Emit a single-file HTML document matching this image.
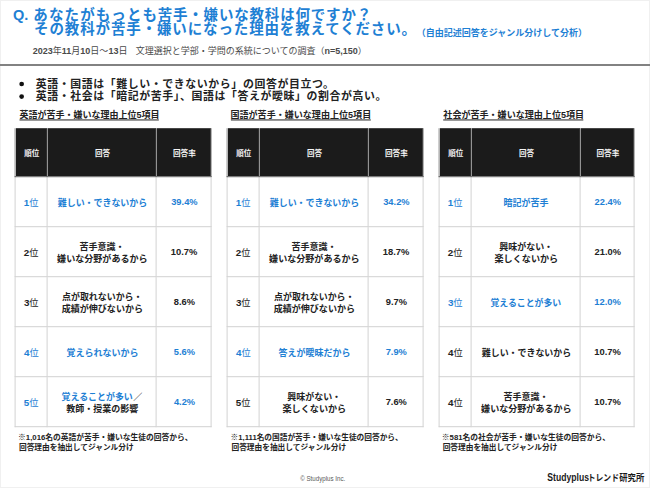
<!DOCTYPE html>
<html lang="ja">
<head>
<meta charset="utf-8">
<title>苦手・嫌いな教科とその理由</title>
<style>
html,body{margin:0;padding:0}
body{width:650px;height:488px;position:relative;overflow:hidden;background:#fff;font-family:"Liberation Sans",sans-serif;color:#222}
.frame{position:absolute;left:0;top:0;width:648px;height:486px;border:1px solid #f0f0f0}
.rule{position:absolute;left:0;top:64px;width:650px;height:2px;background:#828282}
.h{position:absolute;margin:0;padding:0;color:transparent;white-space:nowrap;font-weight:bold;overflow:hidden}
span.h{position:static;display:block;font-size:9px;line-height:10px;max-height:20px;white-space:nowrap}
h1 small{font-size:9px;letter-spacing:0}
ul.h{list-style:none}
table{position:absolute;top:128px;transform:translate(-.4px,.2px);border-collapse:collapse;table-layout:fixed;width:197px}
th,td{padding:0;border:1px solid #d2d2d2;text-align:center;vertical-align:middle;overflow:hidden;line-height:10px;font-size:9px}
th{height:48px;background:#1b1b1b;border-color:#fff;border-left-color:#4c4c4c;border-right-color:#4c4c4c}
th:first-child{border-left-color:#858585}th:last-child{border-right-color:#858585}
tr.hd th{border-bottom-color:#5c5c5c;border-top:0}
td{height:49px}
svg.g{position:absolute;left:0;top:0;pointer-events:none}
svg.g text{font-family:"Liberation Sans","Noto Sans CJK JP",sans-serif;white-space:pre}
svg.g .b{font-weight:bold}
svg.g .n{font-weight:normal}
</style>
</head>
<body>
<div class="frame"></div>
<header>
<h1 class="h" style="left:13px;top:6px;font-size:14px;letter-spacing:1.25px;line-height:14.6px;text-indent:-21px;padding-left:21px">Q. あなたがもっとも苦手・嫌いな教科は何ですか？<br>その教科が苦手・嫌いになった理由を教えてください。<small>（自由記述回答をジャンル分けして分析）</small></h1>
<p class="h" style="left:33px;top:45px;font-size:9px">2023年11月10日～13日　文理選択と学部・学問の系統についての調査（n=5,150）</p>
</header>
<div class="rule"></div>
<ul class="h" style="left:20px;top:78px;font-size:11.5px;line-height:12.3px"><li>英語・国語は「難しい・できないから」の回答が目立つ。</li><li>英語・社会は「暗記が苦手」、国語は「答えが曖昧」の割合が高い。</li></ul>
<h2 class="h" style="left:19.8px;top:109px;font-size:9px;width:138.7px">英語が苦手・嫌いな理由上位5項目</h2>
<table style="left:15px;width:197px"><colgroup><col style="width:32px"><col style="width:109px"><col style="width:55px"></colgroup><tr class="hd"><th><span class="h">順位</span></th><th><span class="h">回答</span></th><th><span class="h">回答率</span></th></tr><tr class="b"><td><span class="h">1位</span></td><td><span class="h">難しい・できないから</span></td><td><span class="h">39.4%</span></td></tr><tr><td><span class="h">2位</span></td><td><span class="h">苦手意識・<br>嫌いな分野があるから</span></td><td><span class="h">10.7%</span></td></tr><tr><td><span class="h">3位</span></td><td><span class="h">点が取れないから・<br>成績が伸びないから</span></td><td><span class="h">8.6%</span></td></tr><tr class="b"><td><span class="h">4位</span></td><td><span class="h">覚えられないから</span></td><td><span class="h">5.6%</span></td></tr><tr class="b"><td><span class="h">5位</span></td><td><span class="h">覚えることが多い／<br>教師・授業の影響</span></td><td><span class="h">4.2%</span></td></tr></table>
<p class="h" style="left:19.2px;top:431px;font-size:8px;line-height:10.6px">※1,016名の英語が苦手・嫌いな生徒の回答から、<br>回答理由を抽出してジャンル分け</p>
<h2 class="h" style="left:231.2px;top:109px;font-size:9px;width:139.3px">国語が苦手・嫌いな理由上位5項目</h2>
<table style="left:227px;width:197px"><colgroup><col style="width:32px"><col style="width:109px"><col style="width:55px"></colgroup><tr class="hd"><th><span class="h">順位</span></th><th><span class="h">回答</span></th><th><span class="h">回答率</span></th></tr><tr class="b"><td><span class="h">1位</span></td><td><span class="h">難しい・できないから</span></td><td><span class="h">34.2%</span></td></tr><tr><td><span class="h">2位</span></td><td><span class="h">苦手意識・<br>嫌いな分野があるから</span></td><td><span class="h">18.7%</span></td></tr><tr><td><span class="h">3位</span></td><td><span class="h">点が取れないから・<br>成績が伸びないから</span></td><td><span class="h">9.7%</span></td></tr><tr class="b"><td><span class="h">4位</span></td><td><span class="h">答えが曖昧だから</span></td><td><span class="h">7.9%</span></td></tr><tr><td><span class="h">5位</span></td><td><span class="h">興味がない・<br>楽しくないから</span></td><td><span class="h">7.6%</span></td></tr></table>
<p class="h" style="left:231.7px;top:431px;font-size:8px;line-height:10.6px">※1,111名の国語が苦手・嫌いな生徒の回答から、<br>回答理由を抽出してジャンル分け</p>
<h2 class="h" style="left:443.5px;top:109px;font-size:9px;width:139.5px">社会が苦手・嫌いな理由上位5項目</h2>
<table style="left:439px;width:196px"><colgroup><col style="width:32px"><col style="width:109px"><col style="width:54px"></colgroup><tr class="hd"><th><span class="h">順位</span></th><th><span class="h">回答</span></th><th><span class="h">回答率</span></th></tr><tr class="b"><td><span class="h">1位</span></td><td><span class="h">暗記が苦手</span></td><td><span class="h">22.4%</span></td></tr><tr><td><span class="h">2位</span></td><td><span class="h">興味がない・<br>楽しくないから</span></td><td><span class="h">21.0%</span></td></tr><tr class="b"><td><span class="h">3位</span></td><td><span class="h">覚えることが多い</span></td><td><span class="h">12.0%</span></td></tr><tr><td><span class="h">4位</span></td><td><span class="h">難しい・できないから</span></td><td><span class="h">10.7%</span></td></tr><tr><td><span class="h">4位</span></td><td><span class="h">苦手意識・<br>嫌いな分野があるから</span></td><td><span class="h">10.7%</span></td></tr></table>
<p class="h" style="left:442.9px;top:431px;font-size:8px;line-height:10.6px">※581名の社会が苦手・嫌いな生徒の回答から、<br>回答理由を抽出してジャンル分け</p>
<footer><div class="h" style="left:300px;top:474px;font-size:7px;font-weight:normal">© Studyplus Inc.</div>
<div class="h" style="left:547px;top:472px;font-size:9px">Studyplusトレンド研究所</div></footer>
<svg class="g" width="650" height="488" viewBox="0 0 650 488" aria-hidden="true">
<text class="b" x="13.05" y="19.70" font-size="14.5" fill="#1e80d4">Q.</text>
<text class="b" x="33.28" y="19.70" font-size="14.5" fill="#1e80d4" letter-spacing="1.12">あなたがもっとも</text>
<text class="b" x="157.67" y="19.70" font-size="14.5" fill="#1e80d4" letter-spacing="0.81">苦手・嫌いな教科は何ですか？</text>
<text class="b" x="34.11" y="34.30" font-size="14.5" fill="#1e80d4" letter-spacing="0.86">その教科が苦手・嫌いになった理由を教えてください。</text>
<text class="b" x="416.80" y="36.10" font-size="9" fill="#1e80d4">（自由記述回答をジャンル分けして分析）</text>
<text class="n" x="32.78" y="54.00" font-size="9" fill="#4a4a4a"><tspan class="b">2023</tspan>年<tspan class="b">11</tspan>月<tspan class="b">10</tspan>日～<tspan class="b">13</tspan>日</text>
<text class="n" x="135.68" y="53.90" font-size="9" fill="#4a4a4a">文理選択と学部・学問の系統についての調査（<tspan class="b">n=5,150</tspan>）</text>
<circle cx="21.65" cy="84" r="2.35" fill="#111"/><circle cx="21.65" cy="96.6" r="2.35" fill="#111"/>
<text class="b" x="35.70" y="87.70" font-size="10.9" fill="#222222" letter-spacing="0.62">英語・国語は「難しい・できないから」の回答が目立つ。</text>
<text class="b" x="35.71" y="100.30" font-size="10.9" fill="#222222" letter-spacing="0.62">英語・社会は「暗記が苦手」、国語は「答えが曖昧」の割合が高い。</text>
<text class="b" x="19.50" y="118.10" font-size="9" fill="#222222">英語が苦手・嫌いな理由上位5項目</text>
<rect x="19.5" y="119.45" width="139.3" height="1" fill="#222"/>
<text class="b" x="24.17" y="156.10" font-size="7.5" fill="#f4f4f4">順位</text>
<text class="b" x="94.97" y="156.10" font-size="7.5" fill="#f4f4f4">回答</text>
<text class="b" x="172.96" y="156.10" font-size="7.6" fill="#f4f4f4">回答率</text>
<text class="n" x="23.71" y="206.00" font-size="9.2" fill="#1e80d4"><tspan class="b" font-size="9.8">1</tspan>位</text>
<text class="b" x="57.80" y="206.30" font-size="8.95" fill="#1e80d4">難しい・できないから</text>
<text class="b" x="171.21" y="205.30" font-size="9.3" fill="#1e80d4">39.4%</text>
<text class="n" x="23.85" y="256.00" font-size="9.2" fill="#222222"><tspan class="b" font-size="9.8">2</tspan>位</text>
<text class="b" x="79.59" y="249.60" font-size="9" fill="#222222">苦手意識・</text>
<text class="b" x="57.11" y="262.35" font-size="9.05" fill="#222222">嫌いな分野があるから</text>
<text class="b" x="170.83" y="255.30" font-size="9.4" fill="#222222">10.7%</text>
<text class="n" x="23.91" y="306.00" font-size="9.2" fill="#222222"><tspan class="b" font-size="9.8">3</tspan>位</text>
<text class="b" x="62.00" y="299.60" font-size="8.95" fill="#222222">点が取れないから・</text>
<text class="b" x="61.63" y="312.35" font-size="9.05" fill="#222222">成績が伸びないから</text>
<text class="b" x="173.77" y="305.30" font-size="9.3" fill="#222222">8.6%</text>
<text class="n" x="23.94" y="356.00" font-size="9.2" fill="#1e80d4"><tspan class="b" font-size="9.8">4</tspan>位</text>
<text class="b" x="66.49" y="356.30" font-size="9" fill="#1e80d4">覚えられないから</text>
<text class="b" x="173.78" y="355.30" font-size="9.3" fill="#1e80d4">5.6%</text>
<text class="n" x="23.87" y="406.00" font-size="9.2" fill="#1e80d4"><tspan class="b" font-size="9.8">5</tspan>位</text>
<text class="b" x="61.56" y="399.60" font-size="8.95" fill="#1e80d4">覚えることが多い</text>
<text class="b" x="133.29" y="399.60" font-size="9.1" fill="#222222">／</text>
<text class="b" x="66.20" y="412.35" font-size="9" fill="#222222">教師・授業の影響</text>
<text class="b" x="173.92" y="405.30" font-size="9.3" fill="#1e80d4">4.2%</text>
<text class="b" x="18.11" y="440.00" font-size="7.75" fill="#222222">※1,016名の英語が苦手・嫌いな生徒の回答から、</text>
<text class="b" x="18.96" y="450.40" font-size="7.7" fill="#222222">回答理由を抽出してジャンル分け</text>
<text class="b" x="230.46" y="118.10" font-size="9.05" fill="#222222">国語が苦手・嫌いな理由上位5項目</text>
<rect x="230.9" y="119.45" width="139.9" height="1" fill="#222"/>
<text class="b" x="236.17" y="156.10" font-size="7.5" fill="#f4f4f4">順位</text>
<text class="b" x="306.97" y="156.10" font-size="7.5" fill="#f4f4f4">回答</text>
<text class="b" x="384.96" y="156.10" font-size="7.6" fill="#f4f4f4">回答率</text>
<text class="n" x="235.71" y="206.00" font-size="9.2" fill="#1e80d4"><tspan class="b" font-size="9.8">1</tspan>位</text>
<text class="b" x="269.80" y="206.30" font-size="8.95" fill="#1e80d4">難しい・できないから</text>
<text class="b" x="383.21" y="205.30" font-size="9.3" fill="#1e80d4">34.2%</text>
<text class="n" x="235.85" y="256.00" font-size="9.2" fill="#222222"><tspan class="b" font-size="9.8">2</tspan>位</text>
<text class="b" x="291.59" y="249.60" font-size="9" fill="#222222">苦手意識・</text>
<text class="b" x="269.11" y="262.35" font-size="9.05" fill="#222222">嫌いな分野があるから</text>
<text class="b" x="382.83" y="255.30" font-size="9.4" fill="#222222">18.7%</text>
<text class="n" x="235.91" y="306.00" font-size="9.2" fill="#222222"><tspan class="b" font-size="9.8">3</tspan>位</text>
<text class="b" x="274.00" y="299.60" font-size="8.95" fill="#222222">点が取れないから・</text>
<text class="b" x="273.63" y="312.35" font-size="9.05" fill="#222222">成績が伸びないから</text>
<text class="b" x="385.74" y="305.30" font-size="9.3" fill="#222222">9.7%</text>
<text class="n" x="235.94" y="356.00" font-size="9.2" fill="#1e80d4"><tspan class="b" font-size="9.8">4</tspan>位</text>
<text class="b" x="278.61" y="356.30" font-size="8.97" fill="#1e80d4">答えが曖昧だから</text>
<text class="b" x="385.66" y="355.30" font-size="9.3" fill="#1e80d4">7.9%</text>
<text class="n" x="235.87" y="406.00" font-size="9.2" fill="#222222"><tspan class="b" font-size="9.8">5</tspan>位</text>
<text class="b" x="287.27" y="399.60" font-size="8.97" fill="#222222">興味がない・</text>
<text class="b" x="282.53" y="412.35" font-size="9.1" fill="#222222">楽しくないから</text>
<text class="b" x="385.66" y="405.30" font-size="9.3" fill="#222222">7.6%</text>
<text class="b" x="230.62" y="440.00" font-size="7.7" fill="#222222">※1,111名の国語が苦手・嫌いな生徒の回答から、</text>
<text class="b" x="231.46" y="450.40" font-size="7.7" fill="#222222">回答理由を抽出してジャンル分け</text>
<text class="b" x="443.35" y="118.10" font-size="9.05" fill="#222222">社会が苦手・嫌いな理由上位5項目</text>
<rect x="443.2" y="119.45" width="140.1" height="1" fill="#222"/>
<text class="b" x="448.17" y="156.10" font-size="7.5" fill="#f4f4f4">順位</text>
<text class="b" x="518.97" y="156.10" font-size="7.5" fill="#f4f4f4">回答</text>
<text class="b" x="596.46" y="156.10" font-size="7.6" fill="#f4f4f4">回答率</text>
<text class="n" x="447.71" y="206.00" font-size="9.2" fill="#1e80d4"><tspan class="b" font-size="9.8">1</tspan>位</text>
<text class="b" x="503.43" y="206.30" font-size="9" fill="#1e80d4">暗記が苦手</text>
<text class="b" x="594.60" y="205.30" font-size="9.3" fill="#1e80d4">22.4%</text>
<text class="n" x="447.85" y="256.00" font-size="9.2" fill="#222222"><tspan class="b" font-size="9.8">2</tspan>位</text>
<text class="b" x="499.27" y="249.60" font-size="8.97" fill="#222222">興味がない・</text>
<text class="b" x="494.53" y="262.35" font-size="9.1" fill="#222222">楽しくないから</text>
<text class="b" x="594.60" y="255.30" font-size="9.3" fill="#222222">21.0%</text>
<text class="n" x="447.91" y="306.00" font-size="9.2" fill="#1e80d4"><tspan class="b" font-size="9.8">3</tspan>位</text>
<text class="b" x="490.50" y="306.30" font-size="8.9" fill="#1e80d4">覚えることが多い</text>
<text class="b" x="594.33" y="305.30" font-size="9.4" fill="#1e80d4">12.0%</text>
<text class="n" x="447.94" y="356.00" font-size="9.2" fill="#222222"><tspan class="b" font-size="9.8">4</tspan>位</text>
<text class="b" x="481.80" y="356.30" font-size="8.95" fill="#222222">難しい・できないから</text>
<text class="b" x="594.33" y="355.30" font-size="9.4" fill="#222222">10.7%</text>
<text class="n" x="447.94" y="406.00" font-size="9.2" fill="#222222"><tspan class="b" font-size="9.8">4</tspan>位</text>
<text class="b" x="503.59" y="399.60" font-size="9" fill="#222222">苦手意識・</text>
<text class="b" x="481.11" y="412.35" font-size="9.05" fill="#222222">嫌いな分野があるから</text>
<text class="b" x="594.33" y="405.30" font-size="9.4" fill="#222222">10.7%</text>
<text class="b" x="441.81" y="440.00" font-size="7.78" fill="#222222">※581名の社会が苦手・嫌いな生徒の回答から、</text>
<text class="b" x="442.66" y="450.40" font-size="7.7" fill="#222222">回答理由を抽出してジャンル分け</text>
<text class="n" x="300.21" y="481.20" font-size="7" fill="#595959" textLength="45" lengthAdjust="spacingAndGlyphs">© Studyplus Inc.</text>
<text class="b" x="547.35" y="481.00" font-size="10" fill="#1a1a1a" textLength="41.6" lengthAdjust="spacingAndGlyphs">Studyplus</text>
<text class="b" x="587.72" y="481.20" font-size="9" fill="#1a1a1a" textLength="31.3" lengthAdjust="spacingAndGlyphs">トレンド</text>
<text class="b" x="619.22" y="481.20" font-size="9" fill="#1a1a1a" textLength="25" lengthAdjust="spacingAndGlyphs">研究所</text>
</svg>
</body>
</html>
